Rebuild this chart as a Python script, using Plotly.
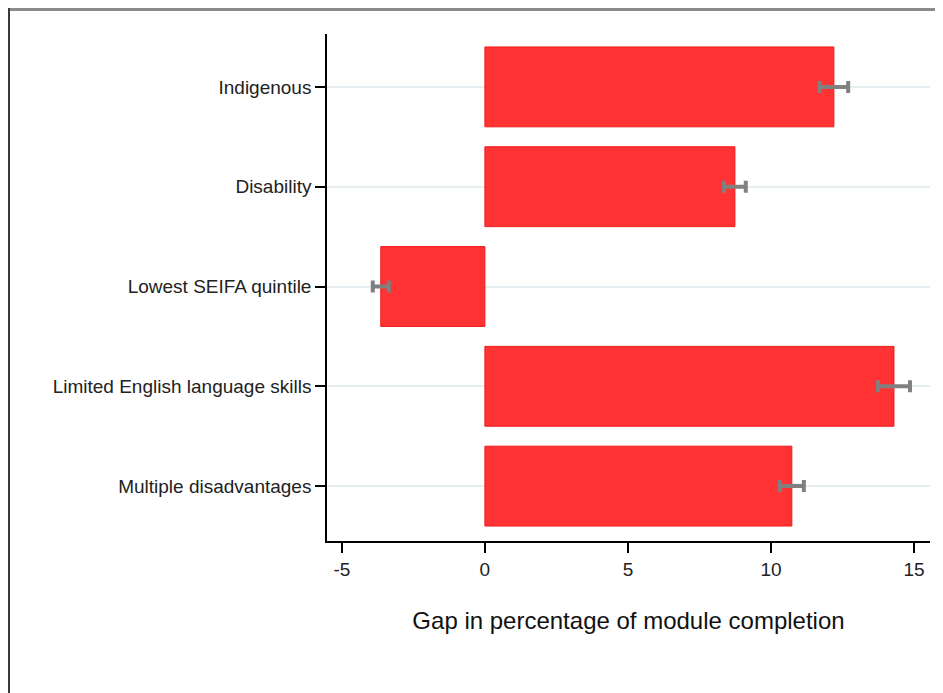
import plotly.graph_objects as go

categories = ["Indigenous", "Disability", "Lowest SEIFA quintile",
              "Limited English language skills", "Multiple disadvantages"]
gap = [12.2, 8.74, -3.64, 14.3, 10.73]
ci = [0.5, 0.38, 0.28, 0.56, 0.42]
x_ticks = [-5, 0, 5, 10, 15]
x_title = "Gap in percentage of module completion"

# page has an 8px body margin; figure is sized to fill the rest of the window
W, H = 935, 685
L, R, T, B = 319, 13, 26, 152
pw, ph = W - L - R, H - T - B

fig = go.Figure()
fig.add_trace(go.Bar(
    y=categories, x=gap, orientation="h", width=0.8,
    marker=dict(color="#ff3333", line=dict(color="#f01818", width=1)),
    error_x=dict(type="data", array=ci, color="#808080", thickness=4, width=6),
    showlegend=False,
))

def px_x(p):
    return (p - L) / pw

def px_y(p):
    return (H - B - p) / ph

fig.update_layout(
    width=W, height=H,
    margin=dict(l=L, r=R, t=T, b=B),
    paper_bgcolor="white", plot_bgcolor="white",
    font=dict(family="Liberation Sans, Arial, sans-serif", color="#222"),
    shapes=[
        dict(type="line", xref="paper", yref="paper",
             x0=px_x(0), x1=px_x(W + 5), y0=px_y(1.5), y1=px_y(1.5),
             line=dict(color="#8a8a8a", width=3)),
        dict(type="line", xref="paper", yref="paper",
             x0=px_x(1), x1=px_x(1), y0=px_y(0), y1=px_y(H + 5),
             line=dict(color="#3a3a3a", width=2)),
    ],
)
fig.update_xaxes(
    range=[-5.52, 15.56], tickvals=x_ticks, ticktext=[str(v) for v in x_ticks],
    showgrid=False, zeroline=False,
    showline=True, linecolor="black", linewidth=1.5,
    ticks="outside", ticklen=10, tickwidth=1.5, tickcolor="black",
    tickfont=dict(size=19, color="#222"),
    title=dict(text=x_title, font=dict(size=24, color="#111"), standoff=34),
)
fig.update_yaxes(
    type="category", categoryorder="array", categoryarray=categories[::-1],
    range=[-0.55, 4.53],
    showgrid=True, gridcolor="#e5eef0", gridwidth=2,
    zeroline=False,
    showline=True, linecolor="black", linewidth=1.5,
    ticks="outside", ticklen=10, tickwidth=1.5, tickcolor="black",
    tickfont=dict(size=19, color="#222"),
)

fig.write_html("out.html")
